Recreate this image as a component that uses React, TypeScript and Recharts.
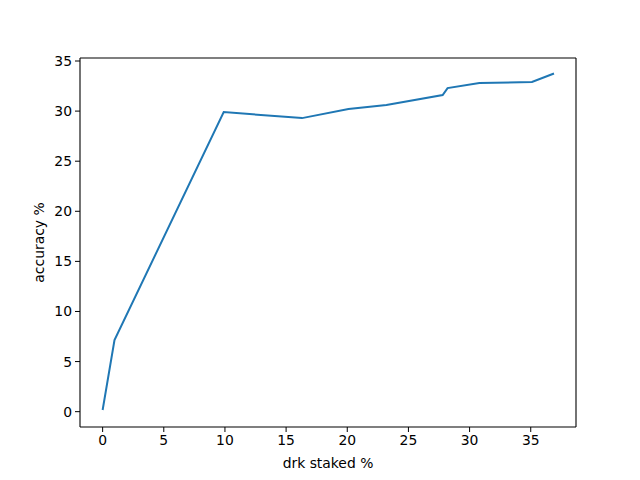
import { LineChart, Line, XAxis, YAxis, Label, ReferenceLine } from 'recharts';

const stakedPct = [0, 0.97, 9.9, 16.3, 20.1, 23.2, 27.8, 28.2, 30.8, 35.1, 36.9];
const accuracyPct = [0.17, 7.15, 29.9, 29.3, 30.2, 30.6, 31.6, 32.3, 32.8, 32.9, 33.75];
const xTicks = [0, 5, 10, 15, 20, 25, 30, 35];
const yTicks = [0, 5, 10, 15, 20, 25, 30, 35];

const data = stakedPct.map((x, i) => ({ x, y: accuracyPct[i] }));

const font = 'DejaVu Sans';
const xDomain: [number, number] = [-1.85, 38.7];
const yDomain: [number, number] = [-1.53, 35.3];

export default function App() {
    return (
        <div style={{ position: 'absolute', left: 0, top: 0, width: 640, height: 480, background: '#fff' }}>
            <LineChart width={640} height={480} data={data} margin={{ top: 58, right: 64, bottom: 0, left: 0 }}>
                <XAxis
                    dataKey="x"
                    type="number"
                    domain={xDomain}
                    ticks={xTicks}
                    allowDataOverflow
                    height={53}
                    tickSize={5}
                    tickMargin={3}
                    stroke="#000"
                    tick={{ fill: '#000', fontSize: 13.9, fontFamily: font }}
                    axisLine={{ stroke: '#000', strokeWidth: 1.1 }}
                >
                    <Label value="drk staked %" position="insideBottom" offset={12} fill="#000" fontSize={13.9} fontFamily={font} />
                </XAxis>
                <YAxis
                    type="number"
                    domain={yDomain}
                    ticks={yTicks}
                    allowDataOverflow
                    width={80}
                    tickSize={5}
                    tickMargin={3}
                    stroke="#000"
                    tick={{ fill: '#000', fontSize: 13.9, fontFamily: font }}
                    axisLine={{ stroke: '#000', strokeWidth: 1.1 }}
                >
                    <Label value="accuracy %" angle={-90} position="insideLeft" offset={39} fill="#000" fontSize={13.9} fontFamily={font} style={{ textAnchor: 'middle' }} />
                </YAxis>
                {/* frame: top and right spines */}
                <ReferenceLine y={yDomain[1]} stroke="#000" strokeWidth={1.1} ifOverflow="extendDomain" />
                <ReferenceLine x={xDomain[1]} stroke="#000" strokeWidth={1.1} ifOverflow="extendDomain" />
                <Line
                    dataKey="y"
                    type="linear"
                    stroke="#1f77b4"
                    strokeWidth={2}
                    dot={false}
                    isAnimationActive={false}
                />
            </LineChart>
        </div>
    );
}
